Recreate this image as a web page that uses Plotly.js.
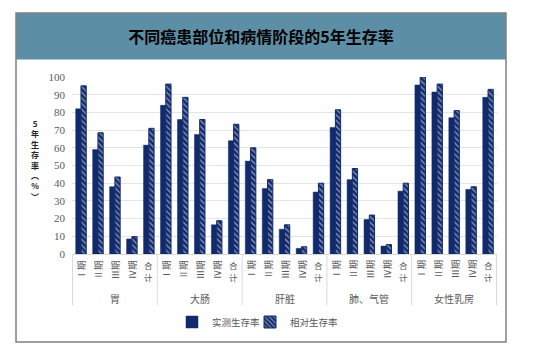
<!DOCTYPE html>
<html>
<head>
<meta charset="utf-8">
<script src="https://cdn.plot.ly/plotly-3.0.1.min.js"></script>
<style>html,body{margin:0;padding:0;background:#fff;}#chart{width:539px;height:351px;}</style>
</head>
<body>
<div id="chart"></div>
<script>
const groups = ['胃', '大肠', '肝脏', '肺、气管', '女性乳房'];
const stages = ['Ⅰ期', 'Ⅱ期', 'Ⅲ期', 'Ⅳ期', '合计'];
const observed = [82, 59, 38, 8.5, 61.5,  84, 76, 67.5, 16.5, 64,  52.5, 37, 14, 3.2, 35,  71.5, 42, 19.5, 4.5, 35.5,  95.5, 91.5, 77, 36.5, 88.5];
const relative = [95, 68.5, 43.5, 9.8, 71,  96, 88.5, 76, 18.8, 73.3,  60, 42, 16.5, 4.1, 40,  81.5, 48.3, 22, 5.3, 40,  100, 96, 81, 38, 93];
const seriesNames = ['实测生存率', '相对生存率'];
const yTitleChars = ['5', '年', '生', '存', '率', '︵', '%', '︶'];
const titleText = '不同癌患部位和病情阶段的5年生存率';

const W = 539, H = 351, L = 72, R = 42, T = 77, B = 97;
const PW = W - L - R, PH = H - T - B;
const px = v => (v - L) / PW;
const py = v => (H - B - v) / PH;

const cats = [];
groups.forEach(g => stages.forEach(s => cats.push(g + '|' + s)));

const navy = '#112a6c';
const gray = '#595959';
const font = 'Noto Sans CJK SC, Noto Sans, sans-serif';

const traces = [
  {type: 'bar', name: seriesNames[0], x: cats, y: observed, legend: 'legend',
   marker: {color: navy, line: {color: navy, width: 0.5}}},
  {type: 'bar', name: seriesNames[1], x: cats, y: relative, legend: 'legend2',
   marker: {color: navy, line: {color: navy, width: 1},
            pattern: {shape: '\\', fgcolor: '#ffffff', bgcolor: navy, size: 4, solidity: 0.35, fillmode: 'overlay'}}}
];

const annotations = [];
cats.forEach((c, i) => {
  const s = stages[i % stages.length];
  if (s === '合计') {
    Array.from(s).forEach((ch, j) => {
      annotations.push({x: c, xref: 'x', y: py(265 + j * 12), yref: 'paper', text: ch, showarrow: false,
        xanchor: 'center', yanchor: 'middle', borderpad: 0, font: {family: font, size: 8.5, color: gray}});
    });
  } else {
    annotations.push({x: c, xref: 'x', y: py(259), yref: 'paper', text: s, textangle: -90, showarrow: false,
      xanchor: 'center', yanchor: 'top', borderpad: 0, font: {family: font, size: 9.5, color: gray}});
  }
});
groups.forEach((g, gi) => {
  annotations.push({x: cats[gi * stages.length + 2], xref: 'x', y: py(298), yref: 'paper', text: g, showarrow: false,
    xanchor: 'center', yanchor: 'middle', font: {family: font, size: 10, color: gray}});
});
annotations.push({x: px(35), xref: 'paper', y: py(160), yref: 'paper',
  text: '<b>' + yTitleChars.join('<br>') + '</b>', showarrow: false, borderpad: 0,
  xanchor: 'center', yanchor: 'middle', font: {family: font, size: 8, color: '#262626'}});

const shapes = [
  {type: 'rect', xref: 'paper', yref: 'paper', x0: px(16), x1: px(506), y0: py(13), y1: py(59.5),
   fillcolor: '#5c8fa6', line: {width: 0}, layer: 'below'},
  {type: 'rect', xref: 'paper', yref: 'paper', x0: px(16), x1: px(506), y0: py(13), y1: py(342),
   fillcolor: 'rgba(0,0,0,0)', line: {color: '#808080', width: 1.5}}
];
for (let k = 0; k <= groups.length; k++) {
  const xv = k * stages.length - 0.5;
  shapes.push({type: 'line', xref: 'x', yref: 'paper', x0: xv, x1: xv, y0: 0, y1: py(305),
    line: {color: '#d9d9d9', width: 1}});
}

const legendBase = {orientation: 'h', xanchor: 'left', y: py(322), yanchor: 'middle',
  font: {family: font, size: 9.5, color: gray}, itemwidth: 30, bgcolor: 'rgba(0,0,0,0)'};

const layout = {
  width: W, height: H,
  margin: {l: L, r: R, t: T, b: B},
  paper_bgcolor: '#ffffff', plot_bgcolor: '#ffffff',
  title: {text: '<b>' + titleText + '</b>', xref: 'container', yref: 'container',
          x: 261 / W, y: 1 - 37 / H, xanchor: 'center', yanchor: 'middle',
          font: {family: font, size: 16, color: '#000000'}},
  barmode: 'group', bargap: 0.38, bargroupgap: 0,
  xaxis: {type: 'category', categoryarray: cats, showticklabels: false, showgrid: false,
          showline: true, linecolor: '#d9d9d9', linewidth: 1, ticks: '', fixedrange: true},
  yaxis: {range: [0, 100], dtick: 10, showgrid: true, gridcolor: '#e4e4e4', gridwidth: 1,
          zeroline: false, showline: false, ticks: '', ticklabelstandoff: 6,
          tickfont: {family: 'Liberation Serif, serif', size: 11, color: gray}},
  legend: Object.assign({}, legendBase, {x: px(172)}),
  legend2: Object.assign({}, legendBase, {x: px(250)}),
  showlegend: true,
  annotations: annotations,
  shapes: shapes
};

Plotly.newPlot('chart', traces, layout, {displayModeBar: false, staticPlot: true});
</script>
</body>
</html>
